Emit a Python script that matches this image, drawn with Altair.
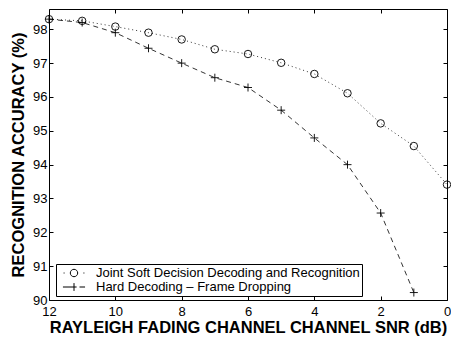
import altair as alt
import pandas as pd

snr_joint = [12, 11, 10, 9, 8, 7, 6, 5, 4, 3, 2, 1, 0]
acc_joint = [98.30, 98.25, 98.08, 97.90, 97.70, 97.41, 97.27, 97.01, 96.68, 96.11, 95.22, 94.55, 93.41]
snr_hard = [12, 11, 10, 9, 8, 7, 6, 5, 4, 3, 2, 1]
acc_hard = [98.30, 98.20, 97.90, 97.44, 97.00, 96.57, 96.28, 95.61, 94.79, 94.00, 92.57, 90.22]

x_ticks = [0, 2, 4, 6, 8, 10, 12]
y_ticks = [90, 91, 92, 93, 94, 95, 96, 97, 98]

name_joint = "Joint Soft Decision Decoding and Recognition"
name_hard = "Hard Decoding \u2013 Frame Dropping"

df_joint = pd.DataFrame({"snr": snr_joint, "acc": acc_joint, "series": name_joint})
df_hard = pd.DataFrame({"snr": snr_hard, "acc": acc_hard, "series": name_hard})
df_all = pd.concat([df_joint, df_hard])

FONT = "Liberation Sans"

xscale = alt.Scale(domain=[0, 12], reverse=True, nice=False)
yscale = alt.Scale(domain=[90, 98.6], nice=False, zero=False)

common = dict(labelFont=FONT, labelFontSize=13, labelColor="black",
              titleFont=FONT, titleFontSize=16.5, titleFontWeight="bold", titleColor="black",
              tickColor="black", tickWidth=1, domain=False, grid=False,
              offset=-4, tickSize=4)

x_bottom = alt.X("snr:Q", scale=xscale, axis=alt.Axis(
    orient="bottom", values=x_ticks, title="RAYLEIGH FADING CHANNEL CHANNEL SNR (dB)",
    labelPadding=5, titlePadding=1, labelFlush=False, labelOverlap=False, **common))
y_left = alt.Y("acc:Q", scale=yscale, axis=alt.Axis(
    orient="left", values=y_ticks, title="RECOGNITION ACCURACY (%)",
    labelPadding=2, titlePadding=6, labelFlush=False, labelOverlap=False, **common))

x_top = alt.X("snr:Q", scale=xscale, axis=alt.Axis(
    orient="top", values=x_ticks, title=None, labels=False, **common))
y_right = alt.Y("acc:Q", scale=yscale, axis=alt.Axis(
    orient="right", values=y_ticks, title=None, labels=False, **common))

x_none = alt.X("snr:Q", scale=xscale, axis=None)
y_none = alt.Y("acc:Q", scale=yscale, axis=None)

line_joint = alt.Chart(df_joint).mark_line(
    color="black", strokeWidth=0.8, strokeDash=[1, 3]
).encode(x=x_bottom, y=y_left)

line_hard = alt.Chart(df_hard).mark_line(
    color="black", strokeWidth=0.8, strokeDash=[5, 4]
).encode(x=x_top, y=y_right)

pts_joint = alt.Chart(df_joint).mark_point(
    shape="circle", size=56, filled=False, color="black", strokeWidth=0.9, opacity=1
).encode(x=x_none, y=y_none)

pts_hard = alt.Chart(df_hard).mark_point(
    shape="M-1,0L1,0M0,-1L0,1", size=64, filled=False, color="black", strokeWidth=0.9, opacity=1
).encode(x=x_none, y=y_none)

leg_joint_path = ("M-1.6,0L-1.45,0M1.45,0L1.6,0"
                  "M0.57,0A0.57,0.57,0,1,1,-0.57,0A0.57,0.57,0,1,1,0.57,0")
leg_hard_path = "M-1.7,0L0.4,0M0.85,0L1.7,0M0,-0.6L0,0.6"

legend_layer = alt.Chart(df_all).mark_point(
    filled=False, color="black", opacity=0
).encode(
    x=x_none, y=y_none,
    shape=alt.Shape("series:N", scale=alt.Scale(
        domain=[name_joint, name_hard], range=[leg_joint_path, leg_hard_path]),
        legend=alt.Legend(
            title=None, orient="none", legendX=7, legendY=255,
            symbolSize=169, symbolOpacity=1, symbolStrokeColor="black",
            symbolFillColor="transparent", symbolStrokeWidth=1, symbolOffset=9,
            labelFont=FONT, labelFontSize=13, labelColor="black", labelOffset=15,
            strokeColor="black", fillColor="white", padding=2, rowPadding=0,
            labelLimit=400))
)

chart = alt.layer(
    line_joint, line_hard, pts_joint, pts_hard, legend_layer
).resolve_axis(x="independent", y="independent").properties(
    width=398, height=291,
    background="white",
    autosize=alt.AutoSizeParams(type="none"),
    padding={"left": 41, "top": 1, "right": 4, "bottom": 37},
).configure_view(
    stroke="black", strokeWidth=1
)

chart.save("out.html", embed_options={"renderer": "svg", "actions": False})
